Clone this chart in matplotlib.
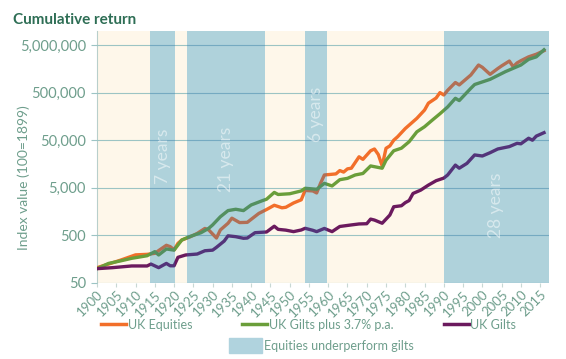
import matplotlib
matplotlib.use("Agg")
import matplotlib.pyplot as plt
from matplotlib.lines import Line2D
from matplotlib.patches import Patch
from matplotlib.ticker import FixedLocator, FuncFormatter

plt.rcParams['font.family'] = ['Lato', 'DejaVu Sans']

# Series (index, 100 = 1899)
eq_years = [1900, 1903, 1906, 1910, 1913, 1915, 1916, 1918, 1919, 1920, 1921, 1922, 1924,
            1926, 1928, 1929, 1931, 1932, 1934, 1935, 1937, 1939, 1942, 1944, 1946, 1948,
            1949, 1951, 1953, 1954, 1956, 1957, 1958, 1959, 1962, 1963, 1964, 1965, 1966,
            1968, 1969, 1971, 1972, 1973, 1974, 1975, 1976, 1977, 1978, 1980, 1983, 1985,
            1986, 1988, 1989, 1990, 1991, 1993, 1994, 1997, 1999, 2000, 2002, 2004, 2005,
            2007, 2008, 2009, 2010, 2012, 2014, 2016]
eq_vals = [105, 125, 150, 195, 200, 210, 240, 310, 290, 250, 340, 400, 460,
           550, 700, 650, 440, 650, 900, 1150, 930, 940, 1450, 1750, 2150, 1900,
           1950, 2400, 2800, 4400, 4300, 3900, 6200, 9300, 9800, 11500, 10700, 12500, 12900,
           22400, 19800, 30000, 32700, 25000, 14400, 33800, 38000, 50000, 59000, 88000,
           144000, 215000, 300000, 385000, 500000, 445000, 560000, 815000, 725000,
           1.17e6, 1.9e6, 1.7e6, 1.21e6, 1.6e6, 1.82e6, 2.3e6, 1.75e6, 2.1e6, 2.34e6,
           2.82e6, 3.2e6, 3.8e6]

gp_years = [1900, 1903, 1906, 1909, 1913, 1915, 1916, 1918, 1920, 1922, 1924, 1927, 1929,
            1930, 1932, 1934, 1936, 1938, 1940, 1943, 1944, 1946, 1947, 1950, 1953, 1954,
            1957, 1959, 1961, 1963, 1965, 1967, 1969, 1971, 1974, 1975, 1977, 1979, 1981,
            1983, 1985, 1987, 1989, 1991, 1993, 1994, 1997, 1998, 2002, 2006, 2010, 2012,
            2014, 2016]
gp_vals = [100, 129, 145, 165, 187, 228, 194, 259, 245, 400, 470, 570, 705,
           830, 1230, 1660, 1770, 1660, 2180, 2700, 2880, 4000, 3620, 3750, 4300, 4890,
           4650, 6200, 5470, 7400, 7900, 9300, 10000, 14400, 12900, 19000, 30000, 34000,
           46500, 75000, 96000, 132000, 180000, 250000, 380000, 340000, 615000, 740000,
           950000, 1.38e6, 1.9e6, 2.5e6, 2.82e6, 3.97e6]

g_years = [1900, 1904, 1909, 1913, 1914, 1916, 1918, 1919, 1920, 1921, 1923, 1926, 1928,
           1930, 1931, 1933, 1934, 1936, 1938, 1939, 1941, 1944, 1946, 1947, 1949, 1951,
           1953, 1954, 1956, 1957, 1959, 1961, 1963, 1966, 1968, 1970, 1971, 1972, 1974,
           1976, 1977, 1979, 1980, 1981, 1982, 1984, 1986, 1988, 1990, 1991, 1993, 1994,
           1996, 1998, 2000, 2002, 2004, 2007, 2009, 2010, 2012, 2013, 2014, 2016]
g_vals = [100, 105, 114, 114, 125, 105, 129, 115, 115, 173, 194, 203, 238,
          245, 281, 380, 490, 470, 435, 440, 570, 590, 780, 670, 645, 600,
          650, 705, 640, 600, 700, 600, 770, 830, 870, 880, 1100, 1050, 900,
          1340, 2000, 2100, 2440, 2700, 3800, 4470, 5700, 7050, 8000, 9300, 15000, 12900,
          16300, 24500, 23300, 27300, 32700, 36700, 43000, 42000, 55000, 50000, 61000, 72000]

# periods where equities underperform gilts
periods = [(1913.7, 1920.3, "7 years"), (1923.3, 1943.6, "21 years"),
           (1953.9, 1959.6, "6 years"), (1990.0, 2017.3, "28 years")]
label_y = [23000, 20000, 178000, 2100]

y_ticks = [50, 500, 5000, 50000, 500000, 5000000]
x_ticks = list(range(1900, 2016, 5))

c_eq = '#F26F2A'
c_gp = '#6A9E3A'
c_g = '#6B1A5E'
c_text = '#6E9E8C'

fig = plt.figure(figsize=(5.66, 3.59), dpi=100)
ax = fig.add_axes([0.1714, 0.2117, 0.7986, 0.7019])
ax.set_facecolor('#FEF7EA')

for (a, b, txt), ly in zip(periods, label_y):
    ax.axvspan(a, b, color='#EEFDEA', lw=0, zorder=1)
    ax.axvspan(a, b, color='#1E71BB', alpha=0.3, lw=0, zorder=4)
    ax.text((a + b) / 2, ly, txt, rotation=90, ha='center', va='center',
            color='white', alpha=0.5, fontsize=12.5, zorder=5)

ax.plot(eq_years, eq_vals, color=c_eq, lw=2.4, zorder=3)
ax.plot(gp_years, gp_vals, color=c_gp, lw=2.4, zorder=3)
ax.plot(g_years, g_vals, color=c_g, lw=2.4, zorder=3)

ax.set_yscale('log')
ax.set_ylim(50, 9.84e6)
ax.set_xlim(1900, 2017.3)
ax.yaxis.set_major_locator(FixedLocator(y_ticks))
ax.yaxis.set_minor_locator(FixedLocator([]))
ax.yaxis.set_major_formatter(FuncFormatter(lambda v, p: f"{int(v):,}"))
ax.set_xticks(x_ticks)
ax.set_xticklabels([str(y) for y in x_ticks], rotation=45, ha='right',
                   rotation_mode='anchor')
ax.grid(axis='y', color='#9CC4C4', lw=0.8, zorder=2)
ax.set_axisbelow(False)
for s in ['top', 'right', 'bottom']:
    ax.spines[s].set_visible(False)
ax.spines['left'].set_color('#B8CFCB')
ax.tick_params(axis='y', colors='#9CC4C4', labelcolor=c_text, labelsize=10.5,
               length=4, width=0.8, pad=4)
ax.tick_params(axis='x', colors='#C8D8D4', labelcolor=c_text, labelsize=9.5,
               length=3, width=0.8, pad=1)
ax.set_ylabel("Index value (100=1899)", color=c_text, fontsize=10, labelpad=3)
ax.yaxis.set_label_coords(-0.148, 0.42)

fig.text(0.023, 0.945, "Cumulative return", color='#2E6E55', fontsize=11,
         fontweight='bold', va='center')

h1 = [Line2D([], [], color=c_eq, lw=2.5), Line2D([], [], color=c_gp, lw=2.5),
      Line2D([], [], color=c_g, lw=2.5)]
fig.legend(h1, ["UK Equities", "UK Gilts plus 3.7% p.a.", "UK Gilts"], ncol=3,
           loc='center left', bbox_to_anchor=(0.158, 0.096), frameon=False,
           fontsize=9, labelcolor=c_text, handlelength=2.0, handletextpad=0.15,
           columnspacing=4.0)
fig.legend([Patch(color='#B0D3DE')], ["Equities underperform gilts"],
           loc='center left', bbox_to_anchor=(0.385, 0.038), frameon=False,
           fontsize=9, labelcolor=c_text, handlelength=2.6, handleheight=1.4,
           handletextpad=0.15)

fig.savefig("out.png", dpi=100)
